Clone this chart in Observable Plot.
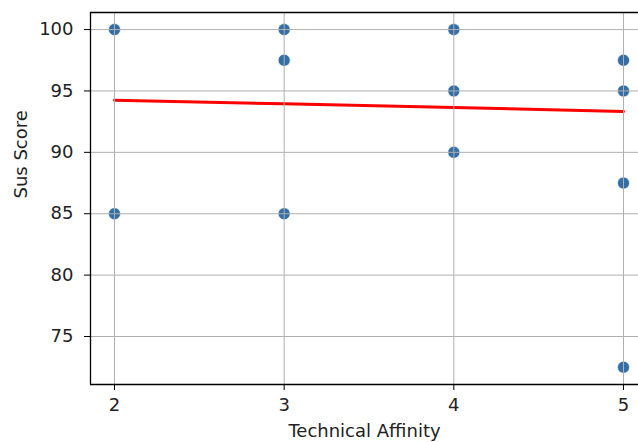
<!DOCTYPE html>
<html>
<head>
<meta charset="utf-8">
<script src="https://cdn.jsdelivr.net/npm/d3@7"></script>
<script src="https://cdn.jsdelivr.net/npm/@observablehq/plot@0.6"></script>
<style>
  html, body { margin: 0; padding: 0; background: #fff; overflow: hidden; }
  svg { display: block; }
</style>
</head>
<body>
<div id="chart"></div>
<script>
// Scatter data (Technical Affinity vs SUS score)
const affinity = [2, 2, 3, 3, 3, 4, 4, 4, 5, 5, 5, 5];
const susScore = [100, 85, 100, 97.5, 85, 100, 95, 90, 97.5, 95, 87.5, 72.5];

// Regression line
const fitX = [2, 3, 4, 5];
const fitY = [94.25, 93.95, 93.65, 93.33];

// Axis settings
const xTicks = [2, 3, 4, 5];
const yTicks = [75, 80, 85, 90, 95, 100];
const xDomain = [1.8586, 5.0884];
const yDomain = [71.09, 101.39];
const xLabel = "Technical Affinity";
const yLabel = "Sus Score";

const points = affinity.map((a, i) => ({x: a, y: susScore[i]}));
const fit = fitX.map((a, i) => ({x: a, y: fitY[i]}));

const font = "DejaVu Sans, sans-serif";
const fs = 18;

const chart = Plot.plot({
  width: 638,
  height: 442,
  marginTop: 12,
  marginBottom: 58,
  marginLeft: 90,
  marginRight: 0,
  style: {fontFamily: font, fontSize: fs + "px", color: "#222", background: "#fff"},
  x: {domain: xDomain},
  y: {domain: yDomain},
  marks: [
    Plot.dot(points, {x: "x", y: "y", r: 6, fill: "#336ea6", stroke: "#ffffff", strokeWidth: 0.6}),
    Plot.line(fit, {x: "x", y: "y", stroke: "red", strokeWidth: 3}),
    Plot.gridX(xTicks, {stroke: "#b0b0b0", strokeOpacity: 1, strokeWidth: 1}),
    Plot.gridY(yTicks, {stroke: "#b0b0b0", strokeOpacity: 1, strokeWidth: 1}),
    Plot.ruleX([xDomain[0]], {stroke: "#000", strokeWidth: 1.3}),
    Plot.ruleY([yDomain[0], yDomain[1]], {stroke: "#000", strokeWidth: 1.3}),
    Plot.axisX(xTicks, {tickSize: 6, tickPadding: 8, tickFormat: d3.format("d"), label: null, fontSize: fs, stroke: "#000", fill: "#222"}),
    Plot.axisY(yTicks, {tickSize: 6, tickPadding: 11, tickFormat: d3.format("d"), label: null, fontSize: fs, stroke: "#000", fill: "#222"}),
    Plot.text([xLabel], {frameAnchor: "bottom", dy: 47, lineAnchor: "middle", text: d => d, fontSize: fs, fill: "#222"}),
    Plot.text([yLabel], {frameAnchor: "left", dx: -69, rotate: -90, lineAnchor: "middle", text: d => d, fontSize: fs, fill: "#222"})
  ]
});
document.getElementById("chart").appendChild(chart);
</script>
</body>
</html>
